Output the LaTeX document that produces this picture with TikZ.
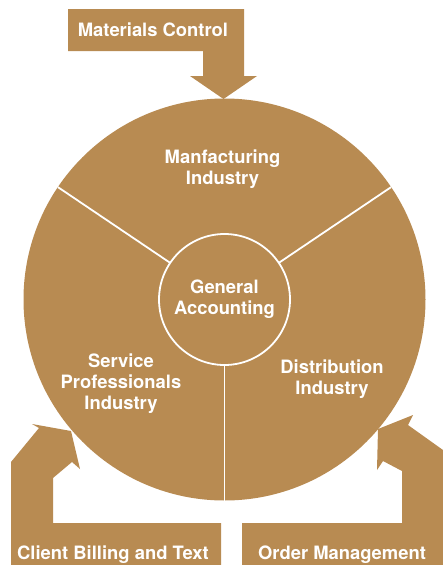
\documentclass[tikz,border=0pt]{standalone}
\usepackage{fontspec}
\setmainfont{TeX Gyre Heros}
\definecolor{hptan}{RGB}{184,139,82}
\begin{document}
\begin{tikzpicture}[x=1pt,y=-1pt,
  lbl/.style={text=white,font=\bfseries\fontsize{18.4}{21}\selectfont,align=center,inner sep=0pt},
  tanfill/.style={fill=hptan,draw=none},
  divider/.style={draw=white,line width=1.8pt},
  hub/.style={circle,draw=white,line width=1.8pt,fill=hptan,minimum size=131pt,inner sep=0pt}]
\useasboundingbox (0,0) rectangle (443,565);
% top arrow: Materials Control
\fill[tanfill] (68,9) -- (244,9) -- (244,76) -- (257,76) -- (223.5,99) -- (190,76) -- (203,76) -- (203,51) -- (68,51) -- cycle;
% left arrow: Client Billing and Text
\fill[tanfill] (11,565) -- (11,462) -- (39,428) -- (32,424) -- (71,431) -- (80,469) -- (72,462) -- (53,478) -- (53,523) -- (221,523) -- (221,565) -- cycle;
% right arrow: Order Management
\fill[tanfill] (378,429) -- (413,415) -- (408,425) -- (443,450) -- (443,565) -- (242,565) -- (242,523) -- (402,523) -- (402,471) -- (383,461) -- (377,470) -- cycle;
% big disc
\coordinate (c) at (224.5,299.5);
\fill[tanfill] (c) circle[radius=201];
\coordinate (d1) at (57.9,187.1);
\coordinate (d2) at (391.1,187.1);
\coordinate (d3) at (224.5,500.5);
\draw[divider] (c) -- (d1);
\draw[divider] (c) -- (d2);
\draw[divider] (c) -- (d3);
\node[hub,lbl] (ga) at (c) {General\\Accounting};
% labels
\node[lbl,anchor=base] (mc) at (153,36.5) {Materials Control};
\node[lbl] (mi) at (222.5,169) {Manfacturing\\Industry};
\node[lbl] (sp) at (121,383.3) {Service\\Professionals\\Industry};
\node[lbl] (di) at (332,379) {Distribution\\Industry};
\node[lbl,anchor=base] (cb) at (113,559.5) {Client Billing and Text};
\node[lbl,anchor=base] (om) at (342,559.5) {Order Management};
\end{tikzpicture}
\end{document}
